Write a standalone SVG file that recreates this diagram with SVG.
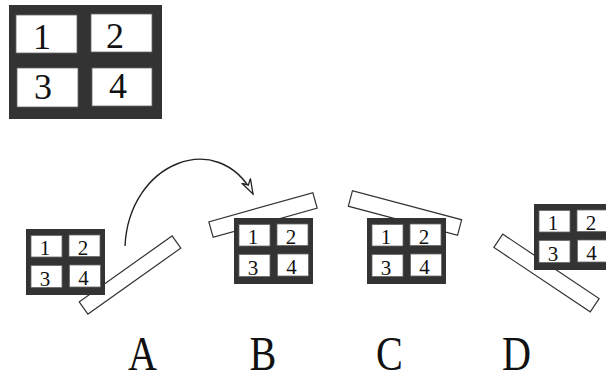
<svg xmlns="http://www.w3.org/2000/svg" width="606" height="376" viewBox="0 0 606 376">
  <style>
    .board { fill: #333333; }
    .cell { fill: #ffffff; stroke: #666666; stroke-width: 0.8; }
    .plank { fill: #ffffff; stroke: #333333; stroke-width: 1.2; }
    .ser { font-family: "Liberation Serif", serif; fill: #111111; }
    .digit { text-anchor: middle; }
    .arc { fill: none; stroke: #222222; stroke-width: 1.4; }
  </style>
  <defs>
    <marker id="dart" markerUnits="userSpaceOnUse" markerWidth="20" markerHeight="14" refX="15" refY="6" orient="auto" viewBox="0 0 20 12">
      <path d="M0,1 L15,6 L0,11 L5,6 Z" fill="#ffffff" stroke="#222222" stroke-width="1.3" stroke-linejoin="miter"/>
    </marker>
    <!-- small 2x2 board, origin at its top-left corner -->
    <g id="miniBoard">
      <rect class="board" x="0" y="0" width="79" height="66"/>
      <rect class="cell" x="5" y="6.5" width="31" height="21.5"/>
      <rect class="cell" x="43" y="6" width="31" height="21.5"/>
      <rect class="cell" x="5" y="36.5" width="31" height="22"/>
      <rect class="cell" x="43.5" y="36" width="31" height="22"/>
      <text class="ser digit" font-size="21" x="19" y="26">1</text>
      <text class="ser digit" font-size="21" x="57" y="26">2</text>
      <text class="ser digit" font-size="21" x="19" y="56.5">3</text>
      <text class="ser digit" font-size="21" x="57.5" y="56">4</text>
    </g>
  </defs>

  <!-- large board -->
  <g id="board-main">
    <rect class="board" x="9" y="5" width="153" height="114"/>
    <rect class="cell" x="16" y="15" width="61" height="38"/>
    <rect class="cell" x="91" y="14" width="61" height="38"/>
    <rect class="cell" x="17" y="68" width="61" height="39"/>
    <rect class="cell" x="92" y="68" width="60" height="38"/>
    <text class="ser digit" font-size="36" x="42" y="49">1</text>
    <text class="ser digit" font-size="36" x="115" y="47.5">2</text>
    <text class="ser digit" font-size="36" x="43" y="99">3</text>
    <text class="ser digit" font-size="36" x="118" y="98">4</text>
  </g>

  <!-- stage A -->
  <g id="stage-A">
    <rect class="plank" x="-57" y="-7.5" width="114" height="15" transform="translate(130,275) rotate(-35.4)"/>
    <use href="#miniBoard" x="26" y="229"/>
  </g>

  <!-- stage B -->
  <g id="stage-B">
    <rect class="plank" x="-54" y="-8" width="108" height="16" transform="translate(263,215) rotate(-15.6)"/>
    <use href="#miniBoard" x="234" y="218"/>
  </g>

  <!-- stage C -->
  <g id="stage-C">
    <rect class="plank" x="-56.5" y="-8" width="113" height="16" transform="translate(405,213) rotate(14.9)"/>
    <use href="#miniBoard" x="367" y="218"/>
  </g>

  <!-- stage D -->
  <g id="stage-D">
    <rect class="plank" x="-58" y="-8" width="116" height="16" transform="translate(546.5,273) rotate(33.8)"/>
    <use href="#miniBoard" x="534" y="204"/>
  </g>

  <!-- connectors -->
  <g id="connectors">
    <path class="arc" d="M125,246 C129,162 218,128 253,194" marker-end="url(#dart)"/>
  </g>

  <!-- stage labels, narrowed horizontally -->
  <g id="labels">
    <text class="ser digit" font-size="49" transform="translate(142.5,370) scale(0.82,1)">A</text>
    <text class="ser digit" font-size="49" transform="translate(263,370) scale(0.82,1)">B</text>
    <text class="ser digit" font-size="49" transform="translate(389.5,370) scale(0.82,1)">C</text>
    <text class="ser digit" font-size="49" transform="translate(516.5,370) scale(0.82,1)">D</text>
  </g>
</svg>
